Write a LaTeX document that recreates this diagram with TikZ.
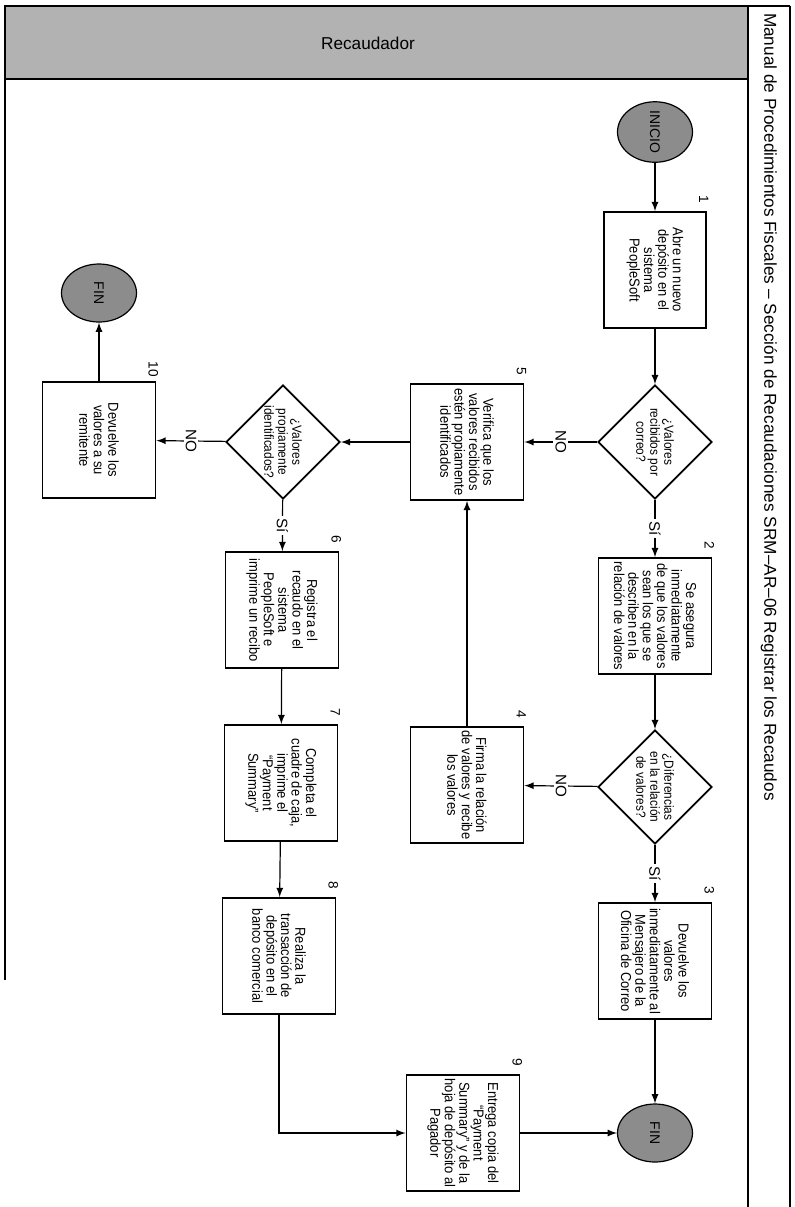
\documentclass[tikz,border=0pt]{standalone}
\usepackage{fontspec}
\setmainfont{Liberation Sans}
\newfontfamily\narrowsf{Liberation Sans}[FakeStretch=0.9]
\usetikzlibrary{shapes.geometric}

\begin{document}
\begin{tikzpicture}[x=0.5pt, y=0.5pt,
  proc/.style={draw, line width=0.9pt, minimum width=58pt, minimum height=56.5pt, inner sep=0.5pt, align=center, font=\narrowsf\fontsize{7.2}{7.2}\selectfont},
  dec/.style={draw, diamond, aspect=1, line width=0.9pt, minimum width=57pt, minimum height=57pt, inner sep=0pt, align=center, font=\narrowsf\fontsize{6.6}{7}\selectfont},
  term/.style={draw, ellipse, line width=0.6pt, fill=black!45, minimum width=29pt, minimum height=37.5pt, inner sep=0pt, font=\fontsize{7}{7}\selectfont},
  num/.style={font=\fontsize{6.8}{7}\selectfont},
  lbl/.style={fill=white, inner sep=1pt, font=\fontsize{7.6}{8}\selectfont},
  flow/.style={-latex, line width=0.6pt}]
\begin{scope}[rotate=-90, transform shape]
\useasboundingbox (0,0) rectangle (1207,794);
% lane and title column
\draw[line width=0.8pt, fill=black!30] (6,5) rectangle (79,748);
\draw[line width=0.8pt] (6,748) -- (6,790);
\draw[line width=0.8pt] (79,5) -- (980,5);
\foreach \y in {748,790} \draw[line width=0.8pt] (6,\y) -- (1207,\y);
\node[rotate=90, font=\fontsize{8.6}{10}\selectfont] (lane) at (43,368) {Recaudador};
\node[anchor=west, font=\fontsize{8.6}{9}\selectfont] (title) at (6,769) {Manual de Procedimientos Fiscales -- Sección de Recaudaciones SRM--AR--06 Registrar los Recaudos};
% main column
\node[term] (ini) at (132,655) {INICIO};
\node[proc, minimum height=51pt] (b1) at (270,655) {Abre un nuevo\\depósito en el\\sistema\\PeopleSoft};
\node[dec] (d1) at (442,655) {¿Valores\\recibidos por\\correo?};
\node[proc] (b2) at (616,655) {Se asegura\\inmediatamente\\de que los valores\\sean los que se\\describen en la\\relación de valores};
\node[dec] (d2) at (787,655) {¿Diferencias\\en la relación\\de valores?};
\node[proc] (b3) at (961,655) {Devuelve los\\valores\\inmediatamente al\\Mensajero de la\\Oficina de Correo};
\node[term] (fin2) at (1133,655) {FIN};
% second column
\node[proc] (b5) at (442,467) {Verifica que los\\valores recibidos\\estén propiamente\\identificados};
\node[proc] (b4) at (785,467) {Firma la relación\\de valores y recibe\\los valores};
\node[proc] (b9) at (1133,463) {Entrega copia del\\“Payment\\Summary” y de la\\hoja de depósito al\\Pagador};
% third column
\node[dec] (d3) at (442,283) {¿Valores\\propiamente\\identificados?};
\node[proc] (b6) at (610,282) {Registra el\\recaudo en el\\sistema\\PeopleSoft e\\imprime un recibo};
\node[proc] (b7) at (783,281) {Completa el\\cuadre de caja,\\imprime el\\“Payment\\Summary”};
\node[proc] (b8) at (956,279) {Realiza la\\transacción de\\depósito en el\\banco comercial};
% fourth column
\node[term] (fin1) at (293,99) {FIN};
\node[proc] (b10) at (440,99) {Devuelve los\\valores a su\\remitente};
\foreach \n in {1,...,10} \node[num] at ([xshift=-6pt, yshift=-1.5pt]b\n.north west) {\n};
\foreach \a/\b in {ini/b1, b1/d1, b2/d2, b3/fin2, b4/b5, b5/d3, b6/b7, b7/b8, b9/fin2, b10/fin1}
  \draw[flow] (\a) -- (\b);
\foreach \a/\b/\t in {d1/b2/Sí, d1/b5/NO, d2/b3/Sí, d2/b4/NO, d3/b6/Sí, d3/b10/NO}
  \draw[flow] (\a) -- node[lbl] {\t} (\b);
\draw[flow] (b8) -| (b9);
\end{scope}
\end{tikzpicture}
\end{document}
